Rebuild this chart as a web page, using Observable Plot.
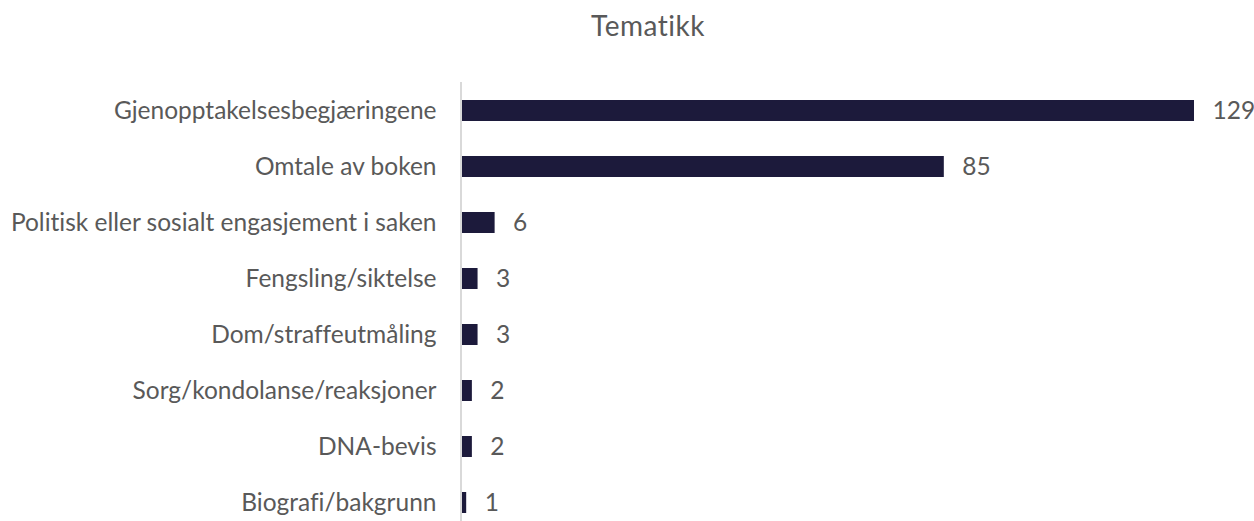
<!DOCTYPE html>
<html>
<head>
<meta charset="utf-8">
<script src="https://cdn.jsdelivr.net/npm/d3@7"></script>
<script src="https://cdn.jsdelivr.net/npm/@observablehq/plot@0.6"></script>
<style>
  body { margin: 0; background: #fff; }
  #wrap { position: relative; width: 1254px; height: 521px; font-family: Lato, "Open Sans", sans-serif; font-variant-ligatures: none; }
  #title { position: absolute; left: 0; width: 1296px; top: 11px; line-height: 28px; text-align: center; font-size: 28px; letter-spacing: 0.5px; color: #595959; }
  svg text { font-variant-ligatures: none; }
</style>
</head>
<body>
<div id="wrap"><div id="title">Tematikk</div><div id="chart"></div></div>
<script>
const categories = [
  "Gjenopptakelsesbegjæringene",
  "Omtale av boken",
  "Politisk eller sosialt engasjement i saken",
  "Fengsling/siktelse",
  "Dom/straffeutmåling",
  "Sorg/kondolanse/reaksjoner",
  "DNA-bevis",
  "Biografi/bakgrunn"
];
const values = [129, 85, 6, 3, 3, 2, 2, 1];
const data = categories.map((c, i) => ({category: c, value: values[i]}));

const chart = Plot.plot({
  width: 1254,
  height: 521,
  marginLeft: 460,
  marginRight: 60,
  marginTop: 82,
  marginBottom: 0,
  style: {fontFamily: "Lato, 'Open Sans', sans-serif", fontSize: "24.5px", color: "#595959", background: "#fff"},
  x: {domain: [0, 129], range: [460.5, 1194], axis: null},
  y: {domain: categories, range: [82, 530], paddingInner: 0.625, paddingOuter: 0.3125, label: null, tickSize: 0, tickPadding: 24},
  marks: [
    Plot.barX(data, {y: "category", x: "value", fill: "#1c1a3b"}),
    Plot.ruleX([0], {stroke: "#d9d9d9", strokeWidth: 2}),
    Plot.text(data, {y: "category", x: "value", text: d => String(d.value), textAnchor: "start", dx: 18, fill: "#595959", fontSize: 24.5})
  ]
});
document.getElementById("chart").appendChild(chart);
</script>
</body>
</html>
